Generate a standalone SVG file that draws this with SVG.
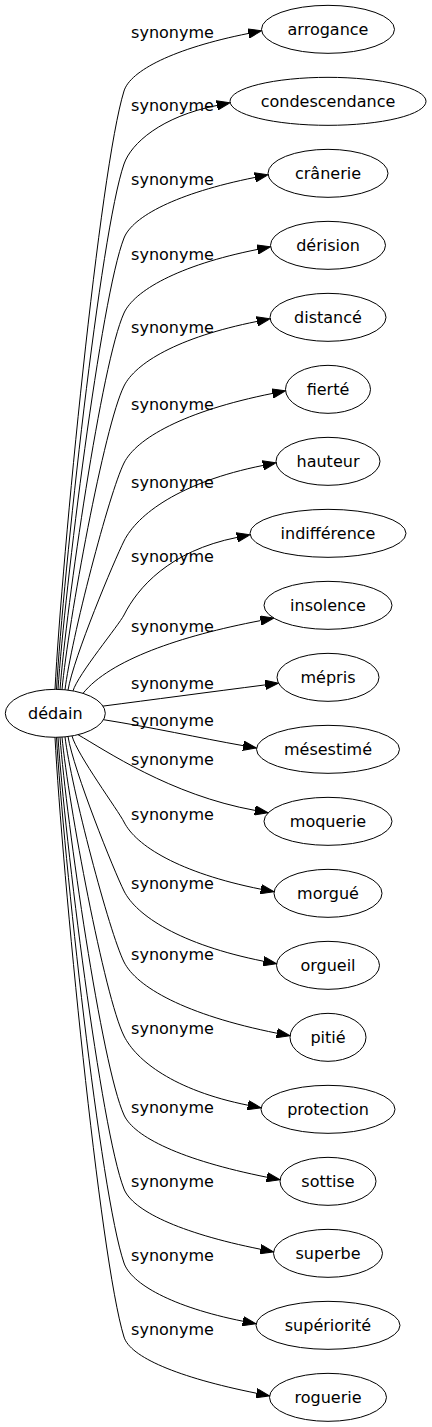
<svg xmlns="http://www.w3.org/2000/svg" width="432" height="1427" viewBox="0 0 432 1427">
<style>
text{font-family:"DejaVu Sans","Noto Sans",sans-serif;font-size:16px;fill:#000;text-anchor:middle}
.n ellipse{fill:none;stroke:#000;stroke-width:1}
.e path{fill:none;stroke:#000;stroke-width:1;marker-end:url(#ah)}
</style>
<defs>
<marker id="ah" markerUnits="userSpaceOnUse" markerWidth="14" markerHeight="10" viewBox="0 -5 14 10" refX="0" refY="0" orient="auto"><path d="M0,-4.67 L13.3,0 L0,4.67 z" fill="#000" stroke="#000" stroke-width="1"/></marker>
</defs>
<rect width="432" height="1427" fill="#fff"/>
<g id="edges" class="e">
<g><path d="M55,689.3 C61.9,557.7 99.85,168.8 124,91 C130.3,70.65 173.78,48.38 248.46,33.44"/><text x="172.5" y="38">synonyme</text></g>
<g><path d="M56.5,689.34 C63.25,573.7 100.4,232.3 124,164 C131.15,143.3 161.18,116.6 216.96,105.44"/><text x="172.5" y="111">synonyme</text></g>
<g><path d="M58,689.37 C64.6,590.07 100.9,296.7 124,238 C132.4,216.66 176.38,193.16 254.96,177.44"/><text x="172.5" y="185">synonyme</text></g>
<g><path d="M60,689.44 C66.4,606.6 101.6,361.9 124,313 C134,291.16 177.38,265.46 257.46,249.44"/><text x="172.5" y="260">synonyme</text></g>
<g><path d="M62,689.55 C68.2,622.75 104.25,425.5 124,386 C135.3,363.34 177.18,337.4 256.96,321.44"/><text x="172.5" y="333">synonyme</text></g>
<g><path d="M65,689.79 C70.9,639.9 109.25,492.5 124,463 C136.15,438.69 183.38,411.26 272.46,393.44"/><text x="172.5" y="410">synonyme</text></g>
<g><path d="M68,690.12 C73.6,657.3 114.3,560.4 124,541 C137.15,514.71 179.58,482.12 262.96,465.44"/><text x="172.5" y="488">synonyme</text></g>
<g><path d="M73,690.88 C78.1,674.2 119.05,624.9 124,615 C137.5,588.05 169.18,551 236.96,537.44"/><text x="172.5" y="562">synonyme</text></g>
<g><path d="M83,693.35 C110,660 180,636 260.56,620.6"/><text x="172.5" y="632">synonyme</text></g>
<g><path d="M103,706.1 C150,700 210,692 265.2,684.9"/><text x="172.5" y="689">synonyme</text></g>
<g><path d="M103.5,719.7 C150,727 200,738 243.3,745.7"/><text x="172.5" y="726">synonyme</text></g>
<g><path d="M78,734.7 C105,750 170,795 254.96,810.4"/><text x="172.5" y="765">synonyme</text></g>
<g><path d="M72,735.95 C77.2,754.9 118.4,810.8 124,822 C135.8,845.5 178.78,872.8 260.96,889.22"/><text x="172.5" y="820">synonyme</text></g>
<g><path d="M68,736.5 C73.6,770.5 113.95,870.9 124,891 C136.3,915.5 179.78,944.5 263.46,961.22"/><text x="172.5" y="889">synonyme</text></g>
<g><path d="M65,736.9 C70.9,786.4 109.35,932.7 124,962 C136.4,986.9 185.18,1014.86 276.96,1033.22"/><text x="172.5" y="960">synonyme</text></g>
<g><path d="M62,737.1 C68.2,802.9 104.55,997.1 124,1036 C136.1,1060.2 173.58,1090.3 247.96,1105.22"/><text x="172.5" y="1034">synonyme</text></g>
<g><path d="M60,737.2 C66.4,820.3 101.6,1065.9 124,1115 C134,1136.9 181.18,1160.06 266.96,1177.22"/><text x="172.5" y="1113">synonyme</text></g>
<g><path d="M58,737.3 C64.6,836.7 100.9,1130.3 124,1189 C132.4,1210.2 178.58,1232.84 260.46,1249.22"/><text x="172.5" y="1187">synonyme</text></g>
<g><path d="M56.5,737.3 C63.25,853 100.4,1194.7 124,1263 C131.1,1283.6 171.58,1306.94 242.96,1321.22"/><text x="172.5" y="1261">synonyme</text></g>
<g><path d="M55,737.3 C61.9,869.2 99.85,1259 124,1337 C130.2,1356.9 176.98,1377.3 256.46,1393.22"/><text x="172.5" y="1335">synonyme</text></g>
</g>
<g id="node-dedain" class="n"><ellipse cx="55.3" cy="713.33" rx="50" ry="24"/><text x="55.3" y="719">dédain</text></g>
<g id="node-arrogance" class="n"><ellipse cx="328" cy="29.33" rx="66.5" ry="24"/><text x="328" y="35">arrogance</text></g>
<g id="node-condescendance" class="n"><ellipse cx="328" cy="101.33" rx="98" ry="24"/><text x="328" y="107">condescendance</text></g>
<g id="node-cranerie" class="n"><ellipse cx="328" cy="173.33" rx="60" ry="24"/><text x="328" y="179">crânerie</text></g>
<g id="node-derision" class="n"><ellipse cx="328" cy="245.33" rx="57.5" ry="24"/><text x="328" y="251">dérision</text></g>
<g id="node-distance" class="n"><ellipse cx="328" cy="317.33" rx="58" ry="24"/><text x="328" y="323">distancé</text></g>
<g id="node-fierte" class="n"><ellipse cx="328" cy="389.33" rx="42.5" ry="24"/><text x="328" y="395">fierté</text></g>
<g id="node-hauteur" class="n"><ellipse cx="328" cy="461.33" rx="52" ry="24"/><text x="328" y="467">hauteur</text></g>
<g id="node-indifference" class="n"><ellipse cx="328" cy="533.33" rx="78" ry="24"/><text x="328" y="539">indifférence</text></g>
<g id="node-insolence" class="n"><ellipse cx="328" cy="605.33" rx="64" ry="24"/><text x="328" y="611">insolence</text></g>
<g id="node-mepris" class="n"><ellipse cx="328" cy="677.33" rx="51" ry="24"/><text x="328" y="683">mépris</text></g>
<g id="node-mesestime" class="n"><ellipse cx="328" cy="749.33" rx="71.5" ry="24"/><text x="328" y="755">mésestimé</text></g>
<g id="node-moquerie" class="n"><ellipse cx="328" cy="821.33" rx="64" ry="24"/><text x="328" y="827">moquerie</text></g>
<g id="node-morgue" class="n"><ellipse cx="328" cy="893.33" rx="54" ry="24"/><text x="328" y="899">morgué</text></g>
<g id="node-orgueil" class="n"><ellipse cx="328" cy="965.33" rx="51.5" ry="24"/><text x="328" y="971">orgueil</text></g>
<g id="node-pitie" class="n"><ellipse cx="328" cy="1037.33" rx="38" ry="24"/><text x="328" y="1043">pitié</text></g>
<g id="node-protection" class="n"><ellipse cx="328" cy="1109.33" rx="67" ry="24"/><text x="328" y="1115">protection</text></g>
<g id="node-sottise" class="n"><ellipse cx="328" cy="1181.33" rx="48" ry="24"/><text x="328" y="1187">sottise</text></g>
<g id="node-superbe" class="n"><ellipse cx="328" cy="1253.33" rx="54.5" ry="24"/><text x="328" y="1259">superbe</text></g>
<g id="node-superiorite" class="n"><ellipse cx="328" cy="1325.33" rx="72" ry="24"/><text x="328" y="1331">supériorité</text></g>
<g id="node-roguerie" class="n"><ellipse cx="328" cy="1397.33" rx="58.5" ry="24"/><text x="328" y="1403">roguerie</text></g>
</svg>
